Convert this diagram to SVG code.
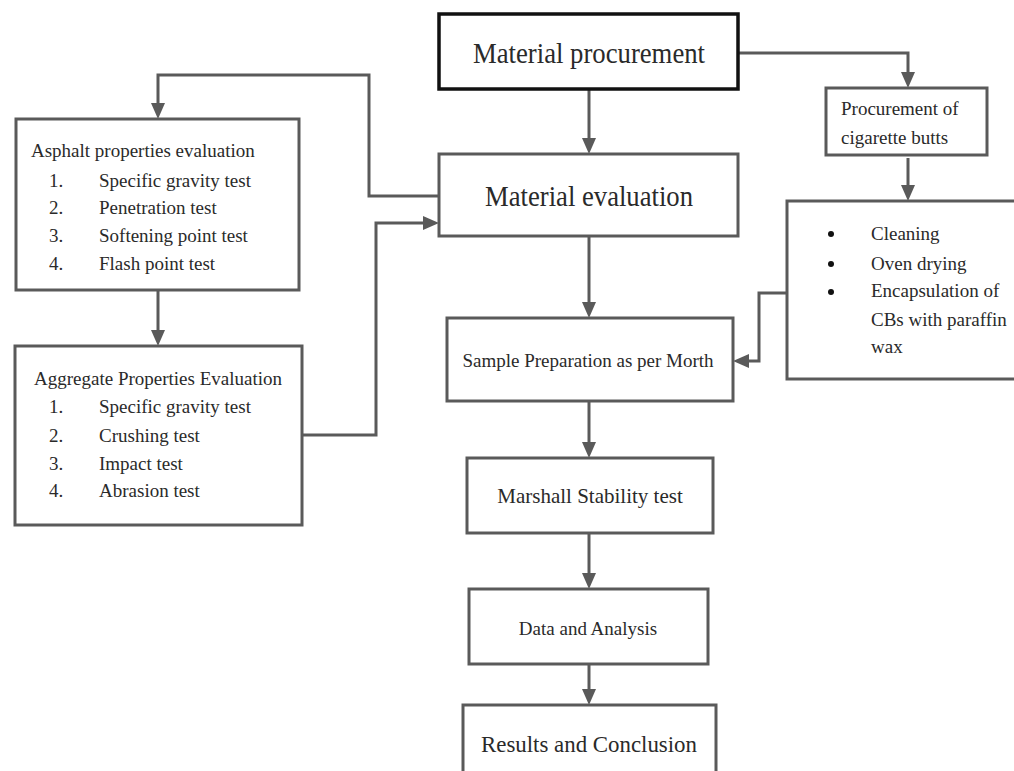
<svg xmlns="http://www.w3.org/2000/svg" width="1014" height="771" viewBox="0 0 1014 771">
<style>
.box{fill:#fff;stroke:#5a5a5a;stroke-width:3}
.boxk{fill:#fff;stroke:#111;stroke-width:3.5}
.t{font-family:"Liberation Serif","Times New Roman",serif;fill:#2a2a2a;font-size:19px}
.c{text-anchor:middle}
.con{fill:none;stroke:#5a5a5a;stroke-width:3;marker-end:url(#ah)}
.ln{fill:none;stroke:#5a5a5a;stroke-width:3}
</style>
<defs>
<marker id="ah" markerUnits="userSpaceOnUse" markerWidth="16" markerHeight="14" refX="0" refY="7" orient="auto" viewBox="0 0 16 14">
<path d="M0,0 L16,7 L0,14 z" fill="#5a5a5a"/>
</marker>
</defs>
<rect width="1014" height="771" fill="#fff"/>
<g id="connectors">
<path class="con" d="M589,89 V138"/>
<path class="con" d="M738,53 H908 V72"/>
<path class="con" d="M908,158 V185"/>
<path class="con" d="M439,196 H369 V75 H158 V103"/>
<path class="con" d="M158,290 V330"/>
<path class="con" d="M302,435 H376 V223 H423"/>
<path class="con" d="M589,236 V302"/>
<path class="con" d="M787,293 H759 V361 H749"/>
<path class="con" d="M589,401 V442"/>
<path class="con" d="M589,533 V573"/>
<path class="con" d="M589,664 V689"/>
</g>
<g id="material-procurement">
<rect class="boxk" x="439" y="14" width="299" height="75"/>
<text class="t" x="473" y="63" style="font-size:29px" textLength="232" lengthAdjust="spacingAndGlyphs">Material procurement</text>
</g>
<g id="material-evaluation">
<rect class="box" x="439" y="154" width="299" height="82"/>
<text class="t" x="485" y="206" style="font-size:29px" textLength="208" lengthAdjust="spacingAndGlyphs">Material evaluation</text>
</g>
<g id="procurement-cb">
<rect class="box" x="826" y="88" width="161" height="67"/>
<text class="t" x="841" y="115">Procurement of</text>
<text class="t" x="841" y="144">cigarette butts</text>
</g>
<g id="cb-treatment">
<rect class="box" x="787" y="201" width="240" height="178"/>
<circle cx="831" cy="234" r="3" fill="#111"/>
<circle cx="831" cy="264" r="3" fill="#111"/>
<circle cx="831" cy="292" r="3" fill="#111"/>
<text class="t" x="871" y="240">Cleaning</text>
<text class="t" x="871" y="270">Oven drying</text>
<text class="t" x="871" y="297">Encapsulation of</text>
<text class="t" x="871" y="326">CBs with paraffin</text>
<text class="t" x="871" y="353">wax</text>
</g>
<g id="asphalt">
<rect class="box" x="16" y="119" width="283" height="171"/>
<text class="t" x="31" y="157">Asphalt properties evaluation</text>
<text class="t" x="49" y="187">1.</text><text class="t" x="99" y="187">Specific gravity test</text>
<text class="t" x="49" y="214">2.</text><text class="t" x="99" y="214">Penetration test</text>
<text class="t" x="49" y="242">3.</text><text class="t" x="99" y="242">Softening point test</text>
<text class="t" x="49" y="270">4.</text><text class="t" x="99" y="270">Flash point test</text>
</g>
<g id="aggregate">
<rect class="box" x="15" y="346" width="287" height="179"/>
<text class="t" x="34" y="385">Aggregate Properties Evaluation</text>
<text class="t" x="49" y="413">1.</text><text class="t" x="99" y="413">Specific gravity test</text>
<text class="t" x="49" y="442">2.</text><text class="t" x="99" y="442">Crushing test</text>
<text class="t" x="49" y="470">3.</text><text class="t" x="99" y="470">Impact test</text>
<text class="t" x="49" y="497">4.</text><text class="t" x="99" y="497">Abrasion test</text>
</g>
<g id="sample-preparation">
<rect class="box" x="447" y="318" width="286" height="83"/>
<text class="t c" x="588" y="367">Sample Preparation as per Morth</text>
</g>
<g id="marshall">
<rect class="box" x="467" y="458" width="246" height="75"/>
<text class="t c" x="590" y="503" style="font-size:21px">Marshall Stability test</text>
</g>
<g id="data-analysis">
<rect class="box" x="469" y="589" width="239" height="75"/>
<text class="t c" x="588" y="635">Data and Analysis</text>
</g>
<g id="results">
<rect class="box" x="463" y="705" width="253" height="75"/>
<text class="t" x="481" y="752" style="font-size:24px" textLength="216" lengthAdjust="spacingAndGlyphs">Results and Conclusion</text>
</g>
</svg>
